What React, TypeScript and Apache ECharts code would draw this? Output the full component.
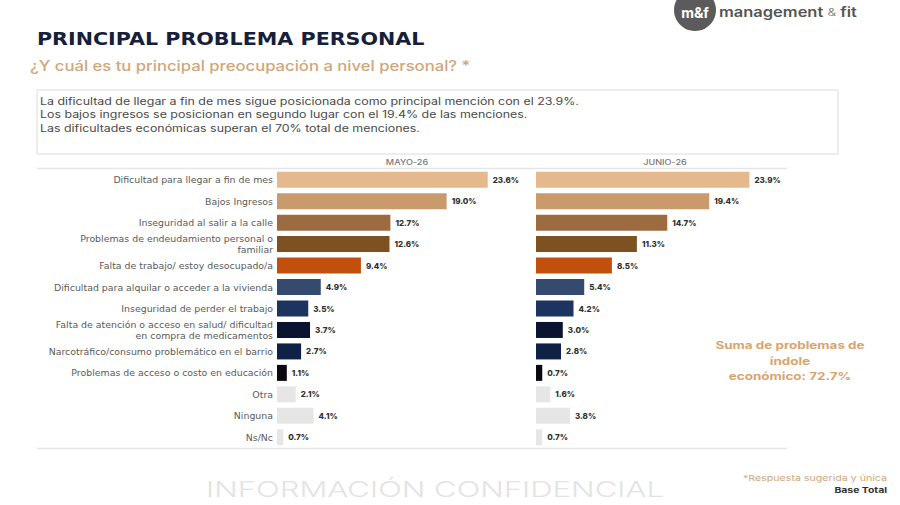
import React, { useEffect, useRef } from "react";
import * as echarts from "echarts";

// Categories (top to bottom) and the share of mentions per wave
const categories = [
  "Dificultad para llegar a fin de mes",
  "Bajos Ingresos",
  "Inseguridad al salir a la calle",
  "Problemas de endeudamiento personal o\nfamiliar",
  "Falta de trabajo/ estoy desocupado/a",
  "Dificultad para alquilar o acceder a la vivienda",
  "Inseguridad de perder el trabajo",
  "Falta de atención o acceso en salud/ dificultad\nen compra de medicamentos",
  "Narcotráfico/consumo problemático en el barrio",
  "Problemas de acceso o costo en educación",
  "Otra",
  "Ninguna",
  "Ns/Nc",
];
const mayo26 = [23.6, 19.0, 12.7, 12.6, 9.4, 4.9, 3.5, 3.7, 2.7, 1.1, 2.1, 4.1, 0.7];
const junio26 = [23.9, 19.4, 14.7, 11.3, 8.5, 5.4, 4.2, 3.0, 2.8, 0.7, 1.6, 3.8, 0.7];
const waveNames = ["MAYO-26", "JUNIO-26"];
const rowColors = [
  "#E6B88E",
  "#C99A6C",
  "#9C6C40",
  "#7E5121",
  "#C24F0E",
  "#344B6F",
  "#1D3460",
  "#0A1330",
  "#0F2145",
  "#09090F",
  "#E6E6E6",
  "#E6E6E6",
  "#E6E6E6",
];

const FONT = "Inter, 'Noto Sans', sans-serif";
const WIDE = "'DejaVu Sans', Inter, sans-serif";
const TAN = "#CFA77C";

export default function App() {
  const ref = useRef<HTMLDivElement>(null);

  useEffect(() => {
    if (!ref.current) return;
    const chart = echarts.init(ref.current, null, { renderer: "svg" });

    const gridTop = 169;
    const gridHeight = 279;
    const xMax = 28;
    const gridWidth = 250;

    const makeSeries = (data: number[], idx: number) => ({
      type: "bar",
      name: waveNames[idx],
      xAxisIndex: idx,
      yAxisIndex: idx,
      barWidth: 16,
      data: data.map((v, i) => ({ value: v, itemStyle: { color: rowColors[i] } })),
      label: {
        show: true,
        position: "right",
        distance: 5,
        formatter: (p: any) => `${Number(p.value).toFixed(1)}%`,
        color: "#2f2f2f",
        fontFamily: FONT,
        fontWeight: 800,
        fontSize: 8,
      },
    });

    const headerText = (x: number, text: string) => ({
      type: "text",
      x,
      y: 162,
      scaleX: 1.3,
      style: {
        text,
        fill: "#777777",
        font: `500 7px ${FONT}`,
        align: "center",
        verticalAlign: "middle",
      },
    });

    chart.setOption({
      animation: false,
      backgroundColor: "#ffffff",
      grid: [
        { left: 277, top: gridTop, width: gridWidth, height: gridHeight },
        { left: 536, top: gridTop, width: gridWidth, height: gridHeight },
      ],
      xAxis: [0, 1].map((g) => ({
        type: "value",
        gridIndex: g,
        min: 0,
        max: xMax,
        show: false,
      })),
      yAxis: [0, 1].map((g) => ({
        type: "category",
        gridIndex: g,
        inverse: true,
        data: categories,
        axisLine: { show: false },
        axisTick: { show: false },
        splitLine: { show: false },
        axisLabel: {
          show: g === 0,
          margin: 4,
          color: "#5a5a5a",
          fontFamily: WIDE,
          fontSize: 9.4,
          fontWeight: 400,
          lineHeight: 11.5,
          align: "right",
        },
      })),
      series: [makeSeries(mayo26, 0), makeSeries(junio26, 1)],
      graphic: [
        // brand mark
        { type: "circle", shape: { cx: 695, cy: 10, r: 21 }, style: { fill: "#5b5b5b" } },
        {
          type: "text",
          x: 695,
          y: 12,
          style: {
            text: "m&f",
            fill: "#ffffff",
            font: `700 14px ${FONT}`,
            align: "center",
            verticalAlign: "middle",
          },
        },
        {
          type: "text",
          x: 719,
          y: 12,
          scaleX: 1.22,
          style: {
            rich: {
              a: { fill: "#555555", font: `600 13.5px ${FONT}` },
              b: { fill: "#888888", font: `400 11px ${FONT}` },
            },
            text: "{a|management }{b|&}{a| fit}",
            verticalAlign: "middle",
          },
        },
        // headings
        {
          type: "text",
          x: 37,
          y: 39,
          scaleX: 1.18,
          style: {
            text: "PRINCIPAL PROBLEMA PERSONAL",
            fill: "#16203a",
            font: `800 17.5px ${WIDE}`,
            verticalAlign: "middle",
          },
        },
        {
          type: "text",
          x: 30,
          y: 66,
          scaleX: 1.19,
          style: {
            text: "¿Y cuál es tu principal preocupación a nivel personal? *",
            fill: TAN,
            font: `500 14px ${FONT}`,
            verticalAlign: "middle",
          },
        },
        // summary box
        {
          type: "rect",
          shape: { x: 37, y: 90, width: 801, height: 64 },
          style: { fill: "#ffffff", stroke: "#dcdcdc", lineWidth: 1 },
        },
        {
          type: "text",
          x: 40,
          y: 94.5,
          scaleX: 1.24,
          style: {
            text:
              "La dificultad de llegar a fin de mes sigue posicionada como principal mención con el 23.9%.\n" +
              "Los bajos ingresos se posicionan en segundo lugar con el 19.4% de las menciones.\n" +
              "Las dificultades económicas superan el 70% total de menciones.",
            fill: "#4a4a4a",
            font: `400 10px ${FONT}`,
            lineHeight: 13.5,
            verticalAlign: "top",
          },
        },
        // wave headers and rules
        headerText(407, waveNames[0]),
        headerText(665, waveNames[1]),
        {
          type: "line",
          shape: { x1: 37, y1: 168.5, x2: 787, y2: 168.5 },
          style: { stroke: "#e6e6e6", lineWidth: 1.5 },
        },
        {
          type: "line",
          shape: { x1: 37, y1: 448.5, x2: 787, y2: 448.5 },
          style: { stroke: "#e6e6e6", lineWidth: 1.5 },
        },
        // annotation
        {
          type: "text",
          x: 790,
          y: 361,
          scaleX: 1.28,
          style: {
            text: "Suma de problemas de\níndole\neconómico: 72.7%",
            fill: "#D9A46C",
            font: `700 10.5px ${FONT}`,
            lineHeight: 15.5,
            align: "center",
            verticalAlign: "middle",
          },
        },
        // footer
        {
          type: "text",
          x: 435,
          y: 489,
          scaleX: 1.48,
          style: {
            text: "INFORMACIÓN CONFIDENCIAL",
            fill: "#e3e3e3",
            font: `300 21px ${FONT}`,
            align: "center",
            verticalAlign: "middle",
          },
        },
        {
          type: "text",
          x: 887,
          y: 478,
          scaleX: 1.33,
          style: {
            text: "*Respuesta sugerida y única",
            fill: TAN,
            font: `400 8px ${FONT}`,
            align: "right",
            verticalAlign: "middle",
          },
        },
        {
          type: "text",
          x: 887,
          y: 490,
          scaleX: 1.3,
          style: {
            text: "Base Total",
            fill: "#333333",
            font: `700 8px ${FONT}`,
            align: "right",
            verticalAlign: "middle",
          },
        },
      ],
    });

    return () => chart.dispose();
  }, []);

  return (
    <div
      ref={ref}
      style={{ position: "absolute", left: 0, top: 0, width: 900, height: 505 }}
    />
  );
}
